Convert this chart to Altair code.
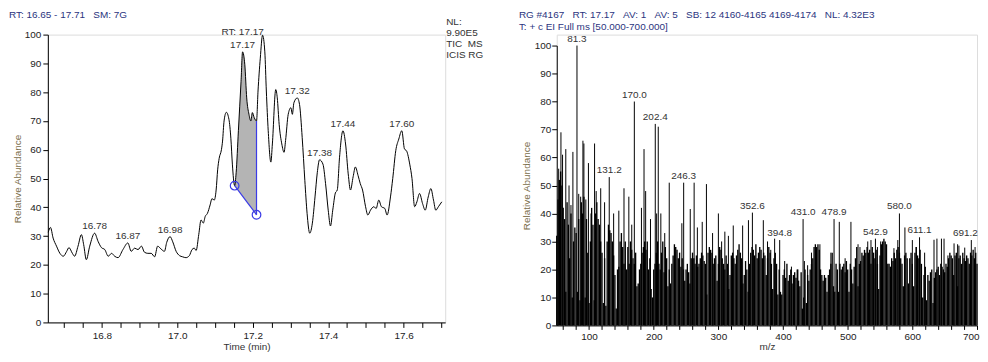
import altair as alt
import pandas as pd

# ---------------- Chromatogram (left) ----------------
rt = [16.658, 16.664, 16.671, 16.680, 16.689, 16.698, 16.707, 16.713, 16.722, 16.728,
      16.737, 16.746, 16.752, 16.759, 16.768, 16.781, 16.790, 16.799, 16.808, 16.817,
      16.826, 16.834, 16.843, 16.856, 16.869, 16.878, 16.887, 16.896, 16.905, 16.913,
      16.922, 16.931, 16.940, 16.948, 16.957, 16.966, 16.972, 16.981, 16.988, 16.997,
      17.006, 17.014, 17.023, 17.032, 17.039, 17.045, 17.050, 17.057, 17.063, 17.069,
      17.074, 17.080, 17.087, 17.092, 17.098, 17.103, 17.107, 17.111, 17.117, 17.120,
      17.124, 17.130, 17.137, 17.142, 17.146, 17.152, 17.156, 17.162, 17.169, 17.173,
      17.179, 17.184, 17.190, 17.195, 17.199, 17.204, 17.210, 17.214, 17.220, 17.226,
      17.232, 17.236, 17.241, 17.248, 17.252, 17.261, 17.265, 17.270, 17.277, 17.283,
      17.287, 17.294, 17.301, 17.305, 17.309, 17.318, 17.324, 17.331, 17.338, 17.344,
      17.351, 17.358, 17.365, 17.371, 17.377, 17.386, 17.393, 17.400, 17.406, 17.412,
      17.419, 17.424, 17.430, 17.439, 17.446, 17.453, 17.459, 17.466, 17.472, 17.479,
      17.485, 17.491, 17.499, 17.505, 17.512, 17.521, 17.527, 17.534, 17.541, 17.550,
      17.556, 17.565, 17.571, 17.579, 17.587, 17.595, 17.602, 17.608, 17.616, 17.622,
      17.629, 17.635, 17.642, 17.650, 17.657, 17.665, 17.672, 17.679, 17.685, 17.692,
      17.701]
abundance = [31.3, 33, 29.3, 26.5, 24, 23, 24.7, 26, 24, 23,
             26.5, 30.5, 27, 21.8, 26.5, 31, 28.2, 26, 25.3, 23,
             24, 23, 22.5, 25.3, 27.6, 24.7, 25.8, 25.3, 26.5, 24.4,
             24, 24, 22.8, 26.5, 25.5, 24.7, 27.8, 29.8, 28, 24.7,
             23.2, 22.8, 22.5, 23.2, 25.3, 25.8, 25, 30.6, 35.6, 34.5,
             36.8, 37.9, 40.8, 43, 42.5, 46, 53, 57, 60, 63,
             70, 73, 70.5, 64, 55, 47.5, 52, 66.6, 83.8, 94,
             89.5, 78, 72.3, 70, 72.9, 71.1, 70, 80.4, 91.8, 99.8,
             94, 80.4, 66.6, 55.7, 62, 80.9, 78, 68.8, 62, 59.1,
             63.2, 72.3, 74.6, 72.3, 76.3, 78, 75.7, 64.3, 49.4, 37.9,
             31, 34.5, 43.6, 52, 56.5, 55, 48.2, 39, 33.5, 39,
             45, 46, 57.4, 66.6, 62, 51.6, 46, 50.6, 54, 51.1,
             48.2, 46, 40.2, 37.3, 39, 40.2, 39.6, 42.5, 40.2, 39.6,
             37.3, 43.6, 50, 59.7, 63.7, 66.6, 60.3, 59.5, 55, 50,
             40.2, 41.9, 44.8, 41.3, 39, 43.6, 46.5, 42.5, 39, 40.2,
             41.9]

chrom_label_rt = [16.781, 16.869, 16.981, 17.173, 17.318, 17.377, 17.439, 17.595]
chrom_label_ab = [31, 27.6, 29.8, 94, 78, 56.5, 66.6, 66.6]
chrom_label_txt = ["16.78", "16.87", "16.98", "17.17", "17.32", "17.38", "17.44", "17.60"]
apex_txt = ["RT: 17.17"]
apex_rt = [17.173]
apex_ab = [94]

baseline_rt = [17.152, 17.210]
baseline_ab = [47.5, 37.4]
cut_rt = [17.210]
cut_low = [37.4]
cut_high = [70.0]

rt_ticks = [16.70, 16.75, 16.80, 16.85, 16.90, 16.95, 17.00, 17.05, 17.10, 17.15, 17.20,
            17.25, 17.30, 17.35, 17.40, 17.45, 17.50, 17.55, 17.60, 17.65, 17.70]
y_ticks = [0, 10, 20, 30, 40, 50, 60, 70, 80, 90, 100]

NB = "\u00a0"
left_header = ["RT:" + NB + "16.65 - 17.71" + NB * 3 + "SM:" + NB + "7G"]
nl_lines = ["NL:", "9.90E5", "TIC" + NB * 2 + "MS", "ICIS RG"]

# ---------------- Spectrum (right) ----------------
mz_grid = list(range(50, 701, 2))
mz_floor = (
    [32, 45, 52, 55, 50, 42, 38, 12, 44, 36] +   # 50-68
    [24, 40, 10, 30, 35, 33, 12, 38, 9, 44] +    # 70-88
    [40, 46, 10, 38, 26, 8, 30, 42, 36, 9] +     # 90-108
    [40, 44, 38, 36, 30, 26, 8, 24, 7, 30] +     # 110-128
    [36, 34, 33, 30, 25, 18, 6, 20, 21, 30] +    # 130-148
    [33, 28, 22, 30, 20, 28, 22, 30, 27, 24] +   # 150-168
    [22, 26, 14, 15, 20, 22, 26, 28, 30, 27] +   # 170-188
    [30, 20, 24, 13, 10, 20, 22, 26, 30, 22] +   # 190-208
    [20, 26, 30, 19, 28, 24, 14, 20, 15, 22] +   # 210-228
    [25, 29, 28, 27, 24, 26, 21, 24, 20, 16] +   # 230-248
    [20, 22, 19, 15, 24, 26, 24, 22, 25, 21] +   # 250-268
    [22, 24, 26, 25, 23, 22, 11, 26, 28, 27] +   # 270-288
    [26, 22, 24, 25, 16, 22, 28, 27, 24, 22] +   # 290-308
    [20, 25, 22, 13, 18, 25, 26, 24, 22, 25] +   # 310-328
    [27, 29, 26, 24, 15, 18, 23, 20, 12, 22] +   # 330-348
    [26, 28, 27, 25, 29, 24, 26, 28, 27, 24] +   # 350-368
    [26, 25, 18, 24, 28, 26, 22, 13, 24, 26] +   # 370-388
    [22, 11, 20, 12, 11, 18, 20, 17, 22, 16] +   # 390-408
    [18, 20, 15, 18, 19, 17, 20, 16, 14, 19] +   # 410-428
    [6, 10, 20, 8, 18, 16, 20, 22, 24, 28] +     # 430-448
    [29, 28, 29, 27, 20, 18, 16, 18, 17, 12] +   # 450-468
    [18, 20, 22, 26, 14, 12, 22, 20, 12, 22] +   # 470-488
    [20, 21, 22, 19, 23, 20, 12, 22, 20, 15] +   # 490-508
    [21, 24, 28, 14, 22, 23, 26, 25, 27, 26] +   # 510-528
    [28, 26, 27, 22, 28, 26, 24, 27, 22, 13] +   # 530-548
    [25, 29, 30, 31, 30, 29, 22, 22, 21, 24] +   # 550-568
    [23, 26, 24, 27, 28, 26, 24, 22, 14, 25] +   # 570-588
    [26, 24, 15, 24, 26, 22, 14, 26, 28, 25] +   # 590-608
    [24, 27, 22, 10, 18, 21, 9, 18, 16, 19] +    # 610-628
    [20, 8, 17, 19, 20, 21, 18, 22, 21, 20] +    # 630-648
    [19, 22, 21, 24, 26, 25, 24, 18, 25, 26] +   # 650-668
    [14, 24, 25, 22, 26, 24, 23, 25, 24, 22] +   # 670-688
    [26, 25, 27, 24, 26, 22]                     # 690-700
)
peak_mz = [53, 56.5, 59, 64, 69, 72, 75, 84, 87, 90.5, 92, 95, 99, 103, 108.5, 111, 118, 124, 138, 146,
           154, 161.5, 166, 181, 185, 187.5, 195, 204.5, 207, 211, 217, 224, 243.5, 256.5, 262.5, 267.5,
           275, 281.5, 291, 300, 305, 310, 315.5, 323, 337.5, 346.5, 369.5, 376, 381, 387, 402.5, 413,
           423, 433, 438, 444, 457, 474, 487, 496, 505, 516, 519, 531, 536, 546, 551, 571.5, 577.5,
           588.5, 600, 606, 619, 633.5, 638, 645, 649, 655, 664.5, 670, 672, 681, 697]
peak_ab = [56, 69, 61, 63, 50, 43, 62, 47, 46, 66, 65, 45, 58, 40, 65, 48, 49, 44, 40, 41,
           49, 46, 36, 42, 63, 48, 38, 40, 71, 40, 33, 51, 36.5, 41.6, 51, 35,
           37, 50.5, 33, 40, 30, 33.5, 32, 35.7, 35.7, 37.6, 37.6, 30, 27, 31, 23, 21,
           20, 23, 21.5, 26, 29, 26, 37, 24, 37, 29, 28, 30, 30.5, 28, 30, 27.6, 30.5,
           35, 30.5, 28, 26, 30.6, 31, 31, 31, 25, 29.3, 29, 28.5, 27.8, 28]
label_mz = [81.3, 131.2, 170.0, 202.4, 246.3, 352.6, 394.8, 431.0, 478.9, 542.9, 580.0, 611.1, 691.2]
label_ab = [100, 53, 80, 72, 51, 40.3, 30.5, 38, 38, 31, 40, 31.5, 30.5]
mz_ticks = list(range(60, 701, 20))

right_header = ["RG" + NB + "#4167" + NB * 3 + "RT:" + NB + "17.17" + NB * 3 + "AV:" + NB + "1" + NB * 3 +
                "AV:" + NB + "5" + NB * 3 + "SB:" + NB + "12" + NB + "4160-4165" + NB + "4169-4174" + NB * 3 +
                "NL:" + NB + "4.32E3",
                "T:" + NB + "+" + NB + "c" + NB + "EI" + NB + "Full" + NB + "ms" + NB + "[50.000-700.000]"]

FONT = "Liberation Sans"
NAVY = "#2b3580"
BLUE = "#3b3be6"
TXT = "#333333"

W1, H1 = 399, 289
W2, H2 = 422, 292
R2_TOP = 11   # pixel row of 100 % in the spectrum panel

one = pd.DataFrame({"k": [0]})


def axis(**kw):
    base = dict(grid=False, domainColor="black", tickColor="black", tickSize=5,
                labelFont=FONT, labelFontSize=10, labelColor="#222",
                titleFont=FONT, titleFontSize=10, titleFontWeight="normal",
                labelOverlap=False, labelFlush=False)
    base.update(kw)
    return alt.Axis(**base)


# ----- left panel -----
chrom = pd.DataFrame({"rt": rt, "ab": abundance})
xs1 = alt.Scale(domain=[16.657, 17.71], nice=False, zero=False)
ys1 = alt.Scale(domain=[0, 100], nice=False)

x_axis1 = axis(values=rt_ticks, title="Time (min)", titleColor="#333",
               labelExpr="abs(datum.value*5 - round(datum.value*5)) < 0.01 ? format(datum.value, '.1f') : ''",
               labelPadding=3, titlePadding=1)
y_axis1 = axis(values=y_ticks, title="Relative Abundance", titleColor="#7a6d4a",
               labelPadding=2, titlePadding=2)


def X1(f):
    return alt.X(f, type="quantitative", scale=xs1, axis=x_axis1)


def Y1(f):
    return alt.Y(f, type="quantitative", scale=ys1, axis=y_axis1)


line = alt.Chart(chrom).mark_line(color="black", strokeWidth=1, interpolate="monotone").encode(
    x=X1("rt"), y=Y1("ab"))

t0, t1 = baseline_rt
a0, a1 = baseline_ab
shade = alt.Chart(chrom).transform_filter(
    f"datum.rt >= {t0} && datum.rt <= {t1}"
).transform_calculate(
    base=f"{a0} + (datum.rt - {t0}) * ({a1} - {a0}) / ({t1} - {t0})"
).mark_area(color="#b4b4b4", interpolate="monotone").encode(
    x=X1("rt"), y=Y1("ab"), y2="base:Q")

bl_df = pd.DataFrame({"rt": baseline_rt, "ab": baseline_ab})
bl_line = alt.Chart(bl_df).mark_line(color=BLUE, strokeWidth=1.2).encode(x=X1("rt"), y=Y1("ab"))
bl_pts = alt.Chart(bl_df).mark_point(shape="circle", size=75, color=BLUE, strokeWidth=1.2,
                                     filled=False, opacity=1).encode(x=X1("rt"), y=Y1("ab"))
cut_df = pd.DataFrame({"rt": cut_rt, "lo": cut_low, "hi": cut_high})
cut = alt.Chart(cut_df).mark_rule(color=BLUE, strokeWidth=1.2).encode(
    x=X1("rt"), y=Y1("lo"), y2="hi:Q")

lab_df = pd.DataFrame({"rt": chrom_label_rt, "ab": chrom_label_ab, "t": chrom_label_txt})
labels1 = alt.Chart(lab_df).mark_text(font=FONT, fontSize=10, color=TXT, baseline="bottom", dy=-2).encode(
    x=X1("rt"), y=Y1("ab"), text="t:N")
apex_df = pd.DataFrame({"rt": apex_rt, "ab": apex_ab, "t": apex_txt})
apex = alt.Chart(apex_df).mark_text(font=FONT, fontSize=10, color=TXT, baseline="bottom", dy=-15).encode(
    x=X1("rt"), y=Y1("ab"), text="t:N")

hdr1 = alt.Chart(one).mark_text(text=left_header[0], font=FONT, fontSize=10, color=NAVY,
                                align="left", baseline="middle").encode(x=alt.value(-39), y=alt.value(-20))
nl_layers = [
    alt.Chart(one).mark_text(text=s, font=FONT, fontSize=10, color=TXT, align="left",
                             baseline="middle").encode(x=alt.value(400), y=alt.value(-13 + 11 * i))
    for i, s in enumerate(nl_lines)
]

left = alt.layer(shade, line, bl_line, cut, bl_pts, labels1, apex, hdr1, *nl_layers).properties(
    width=W1, height=H1)

# ----- right panel -----
xs2 = alt.Scale(domain=[50, 700], nice=False, zero=False)
ys2 = alt.Scale(domain=[0, 100], nice=False, range=[H2, R2_TOP])
x_axis2 = axis(values=mz_ticks, title="m/z", titleColor="#333",
               labelExpr="datum.value % 100 == 0 ? datum.value : ''",
               tickSize=4, labelPadding=2, titlePadding=0,
               labelFlush=True, labelFlushOffset=2)
y_axis2 = axis(values=y_ticks, title="Relative Abundance", titleColor="#7a6d4a",
               tickSize=5, labelPadding=1, titlePadding=3)


def X2(f):
    return alt.X(f, type="quantitative", scale=xs2, axis=x_axis2)


def Y2(f):
    return alt.Y(f, type="quantitative", scale=ys2, axis=y_axis2)


floor_df = pd.DataFrame({"mz": mz_grid, "ab": mz_floor})
sticks = alt.Chart(floor_df).mark_rule(color="black", strokeWidth=1.35).encode(
    x=X2("mz"), y=Y2("ab"), y2=alt.datum(0))
pk_df = pd.DataFrame({"mz": peak_mz + label_mz, "ab": peak_ab + label_ab})
peaks = alt.Chart(pk_df).mark_rule(color="black", strokeWidth=1).encode(
    x=X2("mz"), y=Y2("ab"), y2=alt.datum(0))
lab2_df = pd.DataFrame({"mz": label_mz, "ab": label_ab, "t": [f"{v:.1f}" for v in label_mz]})
labels2 = alt.Chart(lab2_df).transform_filter("datum.mz < 690").mark_text(
    font=FONT, fontSize=10, color=TXT, baseline="bottom", dy=-2).encode(
    x=X2("mz"), y=Y2("ab"), text="t:N")
labels2_edge = alt.Chart(lab2_df).transform_filter("datum.mz >= 690").mark_text(
    font=FONT, fontSize=10, color=TXT, baseline="bottom", dy=-2, dx=-6).encode(
    x=X2("mz"), y=Y2("ab"), text="t:N")
hdr2 = [
    alt.Chart(one).mark_text(text=s, font=FONT, fontSize=10, color=NAVY, align="left",
                             baseline="middle").encode(x=alt.value(-38), y=alt.value(-20 + 12 * i))
    for i, s in enumerate(right_header)
]

right = alt.layer(sticks, peaks, labels2, labels2_edge, *hdr2).properties(width=W2, height=H2)

chart = alt.hconcat(left, right, spacing=34).properties(
    padding={"left": 0, "top": 0, "right": 0, "bottom": 0}
).configure_view(stroke=None).configure(font=FONT)

chart.save("out.html", embed_options={"renderer": "svg", "actions": False})
